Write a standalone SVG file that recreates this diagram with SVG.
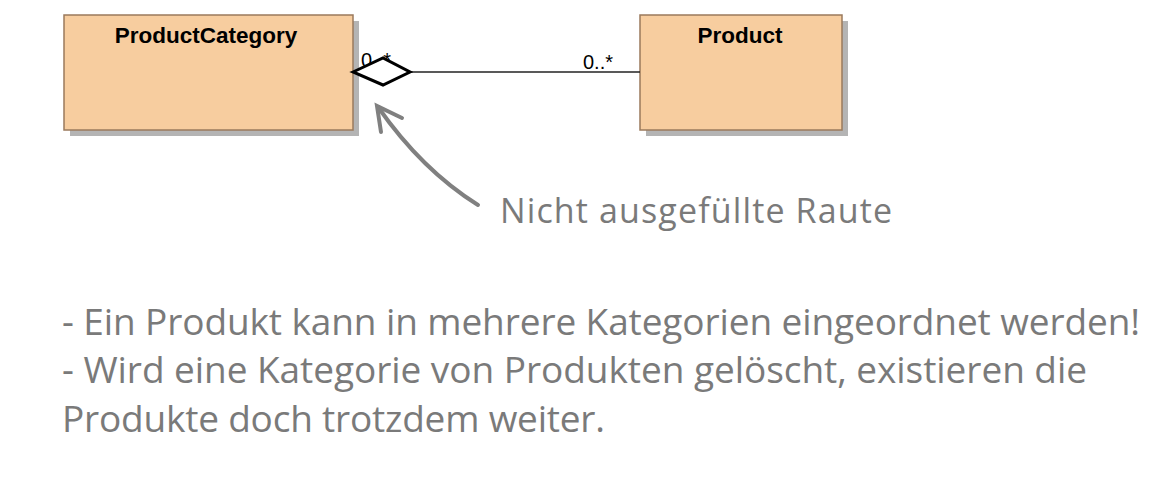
<svg xmlns="http://www.w3.org/2000/svg" width="1164" height="480" viewBox="0 0 1164 480">
  <defs>
    <style>
      .shadow { fill: #b4b4b4; }
      .box { fill: #f7cd9f; stroke: #9a7a5c; stroke-width: 1.5; }
      .title { font-family: "Liberation Sans", Arial, sans-serif; font-weight: bold; font-size: 22.5px; fill: #000; text-anchor: middle; }
      .mult { font-family: "Liberation Sans", Arial, sans-serif; font-size: 20px; fill: #000; }
      .note { font-family: "Open Sans", "Noto Sans", sans-serif; fill: #7a7a7a; }
    </style>
  </defs>
  <rect width="1164" height="480" fill="#ffffff"/>

  <g id="node-productcategory">
    <rect class="shadow" x="70" y="21" width="289" height="115"/>
    <rect class="box" x="64" y="15" width="289" height="115"/>
    <text class="title" x="206" y="43">ProductCategory</text>
  </g>

  <g id="node-product">
    <rect class="shadow" x="646" y="21" width="202" height="115"/>
    <rect class="box" x="640" y="15" width="202" height="115"/>
    <text class="title" x="740" y="43">Product</text>
  </g>

  <g id="connectors">
    <line x1="410" y1="72" x2="640" y2="72" stroke="#222" stroke-width="1.5"/>
    <text class="mult" x="361" y="67">0..*</text>
    <polygon points="353,72 383,58 410,72 383,85" fill="#ffffff" stroke="#000" stroke-width="3" stroke-linejoin="miter"/>
    <text class="mult" x="583" y="69">0..*</text>
    <path d="M478,205 Q422,170 378,107" fill="none" stroke="#808080" stroke-width="4" stroke-linecap="round"/>
    <polyline points="381,132 377,106 402,118" fill="none" stroke="#808080" stroke-width="4" stroke-linecap="round" stroke-linejoin="miter"/>
  </g>

  <g id="annotations">
    <text class="note" x="500" y="223" font-size="34" textLength="392">Nicht ausgefüllte Raute</text>
    <text class="note" x="62" y="335" font-size="37" textLength="1078">- Ein Produkt kann in mehrere Kategorien eingeordnet werden!</text>
    <text class="note" x="62" y="383" font-size="37" textLength="1025">- Wird eine Kategorie von Produkten gelöscht, existieren die</text>
    <text class="note" x="62" y="432" font-size="37" textLength="543">Produkte doch trotzdem weiter.</text>
  </g>
</svg>
